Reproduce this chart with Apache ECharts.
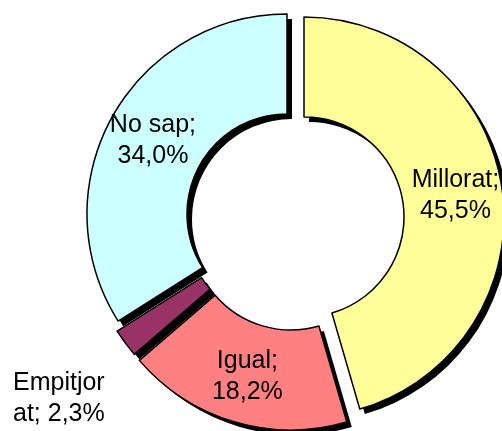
<!DOCTYPE html>
<html>
<head>
<meta charset="utf-8">
<script src="https://cdn.jsdelivr.net/npm/echarts@6/dist/echarts.min.js"></script>
<style>
html, body { margin: 0; padding: 0; background: #fff; }
#chart { width: 502px; height: 431px; }
</style>
</head>
<body>
<div id="chart"></div>
<script>
// data
var categories = ['Millorat', 'Igual', 'Empitjorat', 'No sap'];
var values = [45.5, 18.2, 2.3, 34.0];
var colors = ['#FFFF99', '#FF8080', '#993366', '#CCFFFF'];

// each slice is pulled out a little on its own (exploded pie)
var centers = [[304, 217], [291, 230], [286, 224], [287, 214]];
var shadowOff = 5;

var fontFam = '"Liberation Sans", Arial, sans-serif';

function pct(v) {
    return v.toFixed(1).replace('.', ',') + '%';
}

// all slices in every series so the angles stay right, only one is visible
function buildData(idx, fill, showLabel) {
    var arr = [];
    for (var i = 0; i < categories.length; i++) {
        var item = {name: categories[i], value: values[i]};
        if (i === idx) {
            item.itemStyle = {color: fill || colors[i]};
            if (!showLabel) item.label = {show: false};
        } else {
            item.itemStyle = {color: 'rgba(0,0,0,0)', borderWidth: 0};
            item.label = {show: false};
        }
        arr.push(item);
    }
    return arr;
}

var series = [];
for (var i = 0; i < categories.length; i++) {
    var small = categories[i] === 'Empitjorat';
    // black drop shadow under the slice
    series.push({
        type: 'pie',
        silent: true,
        animation: false,
        startAngle: 90,
        center: [centers[i][0] + shadowOff, centers[i][1] + shadowOff],
        radius: [100, 200],
        itemStyle: {borderWidth: 0},
        label: {show: false},
        labelLine: {show: false},
        emphasis: {disabled: true},
        data: buildData(i, '#000', false)
    });
    series.push({
        name: categories[i],
        type: 'pie',
        silent: true,
        animation: false,
        startAngle: 90,
        clockwise: true,
        center: centers[i],
        radius: [100, 200],
        avoidLabelOverlap: false,
        itemStyle: {
            borderColor: '#000',
            borderWidth: 1.5
        },
        label: {
            show: true,
            position: 'inside',
            color: '#000',
            fontFamily: fontFam,
            fontSize: 25,
            lineHeight: 31,
            width: small ? 96 : null,
            overflow: small ? 'breakAll' : 'none',
            formatter: small ? function (p) {
                return p.name + '; ' + pct(p.value);
            } : function (p) {
                return p.name + ';\n' + pct(p.value);
            }
        },
        labelLine: {show: false},
        labelLayout: small ? function () {
            return {x: 13, y: 399, align: 'left', verticalAlign: 'middle'};
        } : null,
        emphasis: {disabled: true},
        data: buildData(i, null, true)
    });
}

var myChart = echarts.init(document.getElementById('chart'));
myChart.setOption({
    backgroundColor: '#fff',
    series: series
});
</script>
</body>
</html>
